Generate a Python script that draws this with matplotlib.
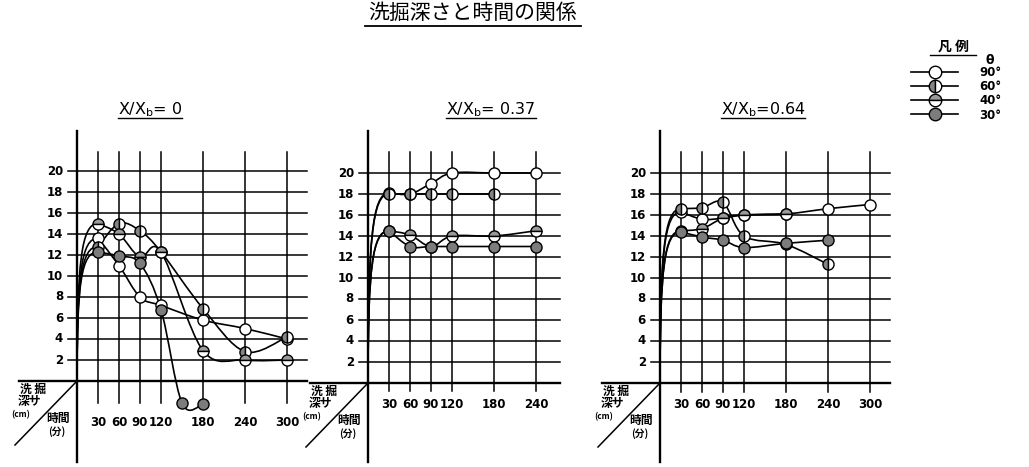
import matplotlib
matplotlib.use('Agg')
import matplotlib.pyplot as plt
import numpy as np
from matplotlib.path import Path
from matplotlib.patches import PathPatch
from matplotlib.lines import Line2D

plt.rcParams['font.family'] = ['Noto Sans CJK JP', 'DejaVu Sans']

# data: scour depth (cm) vs time (min)
angles = ['90°', '60°', '40°', '30°']
time_ticks = [30, 60, 90, 120, 180, 240, 300]
depth_ticks = [2, 4, 6, 8, 10, 12, 14, 16, 18, 20]

p1_times = [[0, 30, 60, 90, 120, 180, 240, 300],
            [0, 30, 60, 90, 120, 180, 240, 300],
            [0, 30, 60, 90, 120, 180, 240, 300],
            [0, 30, 60, 90, 120, 150, 180]]
p1_depths = [[0, 13.6, 11.0, 8.0, 7.2, 5.8, 5.0, 4.0],
             [0, 12.8, 15.0, 14.3, 12.3, 6.9, 2.8, 4.2],
             [0, 15.0, 14.0, 11.8, 12.3, 2.9, 2.0, 2.0],
             [0, 12.3, 11.9, 11.2, 6.8, -2.1, -2.2]]

p2_times = [[0, 30, 60, 90, 120, 180, 240],
            [0, 30, 60, 90, 120, 180],
            [0, 30, 60, 90, 120, 180, 240],
            [0, 30, 60, 90, 120, 180, 240]]
p2_depths = [[0, 18.1, 18.0, 19.0, 20.0, 20.0, 20.0],
             [0, 18.0, 18.0, 18.0, 18.0, 18.0],
             [0, 14.5, 14.1, 13.0, 14.0, 14.0, 14.5],
             [0, 14.5, 13.0, 13.0, 13.0, 13.0, 13.0]]

p3_times = [[0, 30, 60, 90, 120, 180, 240, 300],
            [0, 30, 60, 90, 120, 180, 240],
            [0, 30, 60, 90, 120, 180],
            [0, 30, 60, 90, 120, 180, 240]]
p3_depths = [[0, 16.3, 15.6, 15.7, 16.0, 16.1, 16.6, 17.0],
             [0, 16.6, 16.7, 17.2, 14.0, 13.2, 11.3],
             [0, 14.5, 14.7, 15.7, 16.0, 16.1],
             [0, 14.4, 13.9, 13.6, 12.9, 13.3, 13.6]]

# marker styles per angle
styles = [dict(fillstyle='full', markerfacecolor='white'),
          dict(fillstyle='left', markerfacecolor='#858585', markerfacecoloralt='white'),
          dict(fillstyle='top', markerfacecolor='#9a9a9a', markerfacecoloralt='white'),
          dict(fillstyle='full', markerfacecolor='#7c7c7c')]

W, H = 1029, 467
PX_T, PX_V = 0.7, 10.5   # pixels per minute, pixels per cm
NUM = dict(family='DejaVu Sans', fontweight='bold', fontsize=8.5)

fig = plt.figure(figsize=(W / 100, H / 100), dpi=100)


def curve(ax, t, v):
    # smooth hand-drawn-looking curve through the points
    pts = np.column_stack([t, v]).astype(float)
    verts = [pts[0]]
    codes = [Path.MOVETO]
    p0, p1 = pts[0], pts[1]
    verts += [(p0[0], p0[1] + 0.75 * (p1[1] - p0[1])),
              (p0[0] + 0.2 * (p1[0] - p0[0]), p1[1]), p1]
    codes += [Path.CURVE4] * 3
    n = len(pts)
    for i in range(1, n - 1):
        a = pts[i - 1] if i > 1 else pts[i]
        b, c = pts[i], pts[i + 1]
        d = pts[i + 2] if i + 2 < n else c
        verts += [b + (c - a) / 6, c - (d - b) / 6, c]
        codes += [Path.CURVE4] * 3
    ax.add_patch(PathPatch(Path(verts, codes), fill=False, ec='k', lw=1.2))


def panel(ox, oy, title, tcx, ticks, right_px, label_dy, times, depths, gbot_px):
    ax = fig.add_axes([(ox - 75) / W, 0, 315 / W, 1 - 120 / H])
    ax.set_xlim(-75 / PX_T, 240 / PX_T)
    ax.set_ylim(-(H - oy) / PX_V, (oy - 120) / PX_V)
    ax.axis('off')
    t_right = (right_px - ox) / PX_T

    # axes, diagonal and grid
    ax.plot([0, 0], [-(462 - oy) / PX_V, (oy - 131) / PX_V], color='k', lw=1.7, clip_on=False)
    ax.plot([-58 / PX_T, t_right], [0, 0], color='k', lw=1.7, clip_on=False)
    ax.plot([0, -62 / PX_T], [0, -64 / PX_V], color='k', lw=1.1, clip_on=False)
    for tt in ticks:
        ax.plot([tt, tt], [-(gbot_px - oy) / PX_V, (oy - 152) / PX_V], color='k', lw=1.1)
        ax.text(tt, -label_dy / PX_V, str(tt), ha='center', va='center', **NUM)
    for dv in depth_ticks:
        ax.plot([-9 / PX_T, t_right], [dv, dv], color='k', lw=1.1)
        ax.text(-14 / PX_T, dv, str(dv), ha='right', va='center', **NUM)

    # corner labels
    for s, dx, dy, fs in [('洗 掘', -44, 8, 8.5), ('深サ', -48, 21, 8.5), ('(cm)', -56, 34, 6),
                          ('時間', -19, 37, 8.5), ('(分)', -20, 51, 7)]:
        ax.text(dx / PX_T, -dy / PX_V, s, ha='center', va='center', fontsize=fs,
                fontweight='bold', style='italic')

    # title, underlined
    txt = ax.text((tcx - ox) / PX_T, (oy - 110) / PX_V, title, ha='center', va='center',
                  fontsize=11.5, family='DejaVu Sans')
    fig.canvas.draw()
    bb = txt.get_window_extent().transformed(ax.transData.inverted())
    ax.plot([bb.x0, bb.x1], [(oy - 118) / PX_V] * 2, color='k', lw=1.0, clip_on=False)

    for i in range(4):
        curve(ax, times[i], depths[i])
        ax.plot(times[i][1:], depths[i][1:], ls='none', marker='o', ms=8, mec='k',
                mew=1.0, color='k', zorder=5, **styles[i])
    return ax


panel(77, 381, 'X/X$_\\mathrm{b}$= 0', 150, time_ticks, 307, 42, p1_times, p1_depths, 403)
panel(368, 383, 'X/X$_\\mathrm{b}$= 0.37', 491, time_ticks[:-1], 560, 21, p2_times, p2_depths, 391)
panel(660, 383, 'X/X$_\\mathrm{b}$=0.64', 763, time_ticks, 890, 21, p3_times, p3_depths, 392)

# figure title (only its lower edge shows in the scan; kept fully visible here)
ttl = fig.text(473 / W, 1 - 2 / H, '洗掘深さと時間の関係', ha='center', va='top', fontsize=15)
fig.canvas.draw()
tb = ttl.get_window_extent().transformed(fig.transFigure.inverted())
fig.add_artist(Line2D([tb.x0 - 4 / W, tb.x1 + 4 / W], [tb.y0 - 2 / H] * 2, color='k', lw=1.3))

# legend
fig.text(953 / W, 1 - 47 / H, '凡 例', ha='center', va='center', fontsize=10, style='italic',
         fontweight='bold')
fig.add_artist(Line2D([930 / W, 976 / W], [1 - 55 / H] * 2, color='k', lw=1.0))
fig.text(990 / W, 1 - 60 / H, 'θ', ha='center', va='center', fontsize=9, fontweight='bold',
         family='DejaVu Sans')
handles = [Line2D([], [], color='k', lw=1.2, marker='o', ms=9, mec='k', mew=1.0, **st)
           for st in styles]
fig.legend(handles, angles, loc='upper left', bbox_to_anchor=(911 / W, 1 - 66 / H),
           frameon=False, handlelength=4.0, handletextpad=1.8, labelspacing=0.1,
           borderpad=0, borderaxespad=0, prop=dict(family='DejaVu Sans', weight='bold', size=8.5))

fig.savefig('out.png', dpi=100)
